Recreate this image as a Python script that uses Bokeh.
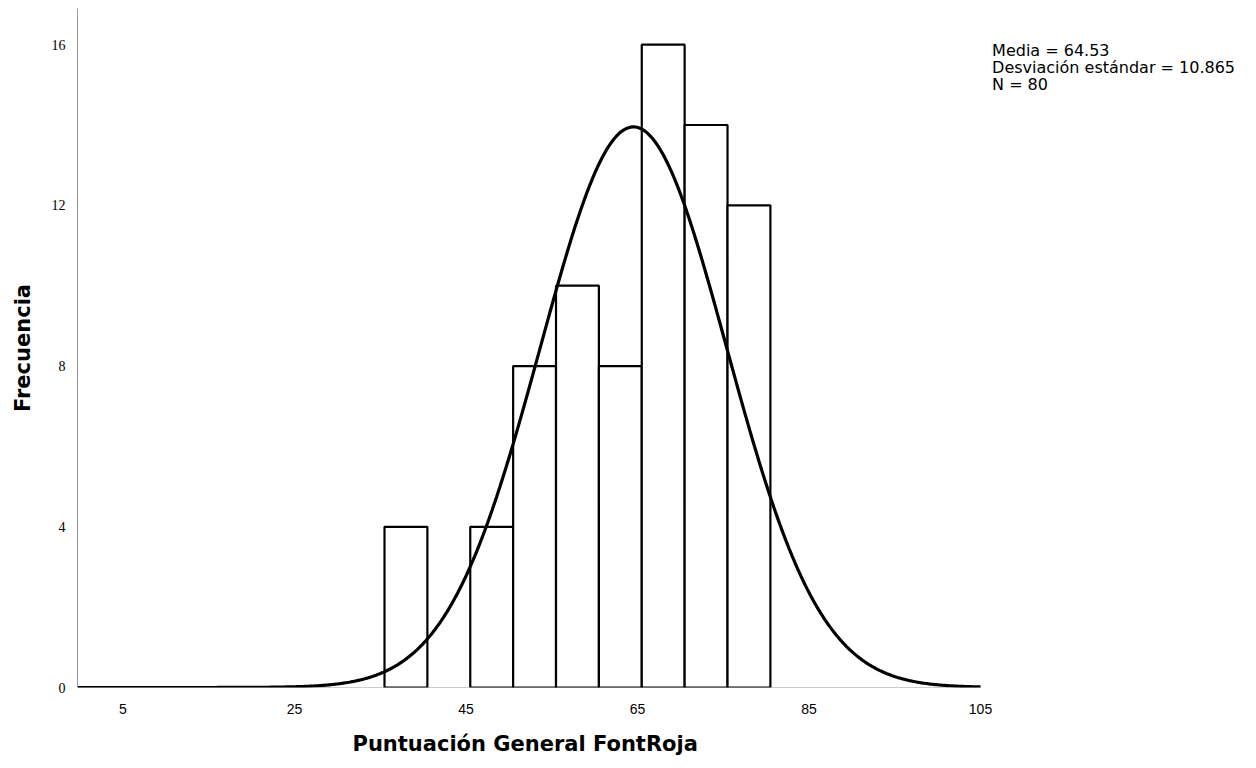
import numpy as np
from bokeh.plotting import figure
from bokeh.models import Range1d, Label, FixedTicker, Title
from bokeh.embed import file_html
from bokeh.resources import INLINE

bin_left = [35.5, 45.5, 50.5, 55.5, 60.5, 65.5, 70.5, 75.5]
bin_right = [40.5, 50.5, 55.5, 60.5, 65.5, 70.5, 75.5, 80.5]
counts = [4, 4, 8, 10, 8, 16, 14, 12]
mean = 64.53
sd = 10.865
n_stat = 80
bin_width = 5.0
x_ticks = [5, 25, 45, 65, 85, 105]
y_ticks = [0, 4, 8, 12, 16]
x_min, x_max = -0.3, 105

px_per_unit = 903 / (x_max - x_min)
x_end = x_max + (1256 - 77 - 903) / px_per_unit

p = figure(width=1256, height=768, output_backend="svg", toolbar_location=None,
           x_range=Range1d(x_min, x_end), y_range=Range1d(0, 16.9),
           min_border_left=77, min_border_right=0, min_border_top=8, min_border_bottom=81)
p.outline_line_color = None
p.xgrid.visible = False
p.ygrid.visible = False

p.line([x_min, x_max], [0, 0], line_color="#999999", line_width=1)

p.quad(left=bin_left, right=bin_right, bottom=0, top=counts,
       fill_color="white", line_color="black", line_width=2.2)

xs = np.linspace(x_min, x_max, 600)
scale = sum(counts) * bin_width
ys = scale / (sd * np.sqrt(2 * np.pi)) * np.exp(-0.5 * ((xs - mean) / sd) ** 2)
p.line(xs, ys, line_color="black", line_width=3.2)

p.xaxis.ticker = FixedTicker(ticks=x_ticks)
p.yaxis.ticker = FixedTicker(ticks=y_ticks)
for ax in (p.xaxis[0], p.yaxis[0]):
    ax.major_tick_line_color = None
    ax.minor_tick_line_color = None
    ax.major_label_text_color = "black"
    ax.major_label_text_font_size = "14px"
    ax.axis_label_text_font = "DejaVu Sans"
    ax.axis_label_text_font_style = "bold"
    ax.axis_label_text_font_size = "21px"
    ax.axis_label_text_color = "black"
p.xaxis.axis_line_color = None
p.yaxis.axis_line_color = "#999999"
p.yaxis.axis_line_width = 1

p.xaxis.major_label_text_font = "Liberation Sans"
p.yaxis.major_label_text_font = "Liberation Serif"
p.xaxis.major_label_standoff = 10
p.yaxis.major_label_standoff = 6
p.yaxis.axis_label = "Frecuencia"
p.yaxis.axis_label_standoff = 14

p.add_layout(Title(text="Puntuación General FontRoja", align="left", offset=275,
                   text_font="DejaVu Sans", text_font_style="bold",
                   text_font_size="21px", text_color="black", standoff=26), "below")

lines = ["Media = 64.53", "Desviación estándar = 10.865", "N = 80"]
for i, t in enumerate(lines):
    p.add_layout(Label(x=106.35, y=15.85 - i * 0.42, text=t, text_font="DejaVu Sans",
                       text_font_size="16px", text_color="black",
                       text_baseline="middle", text_align="left"))

open("out.html", "w").write(file_html(p, INLINE))
